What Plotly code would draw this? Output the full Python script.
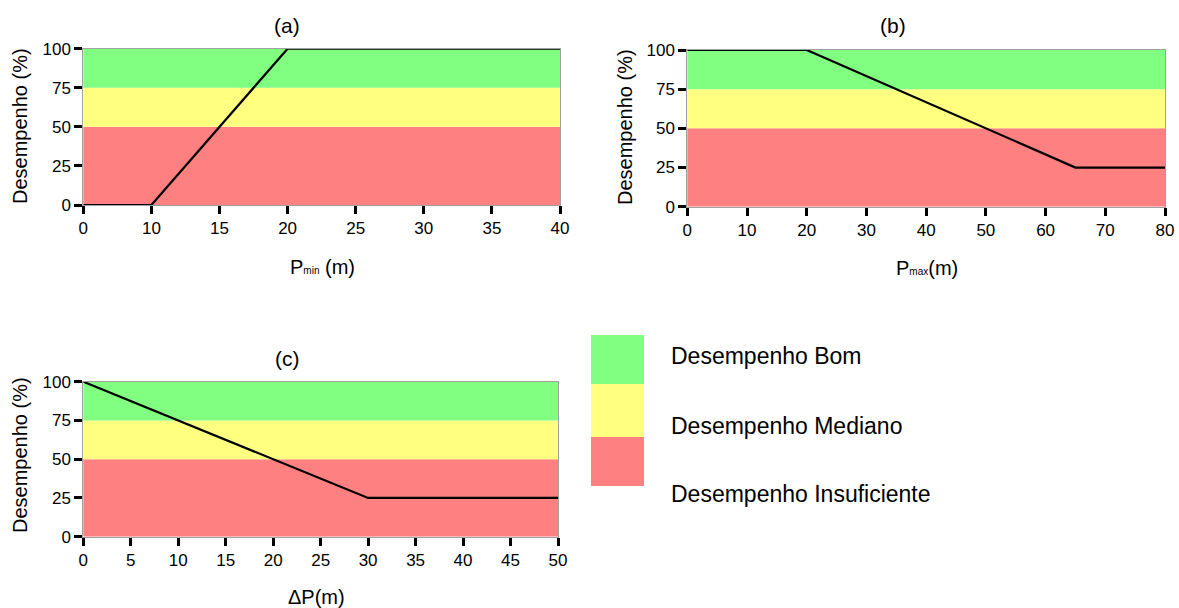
import plotly.graph_objects as go

W, H = 1179, 608

# ---- data ----
band_low = [0, 50, 75]
band_high = [50, 75, 100]
band_colors = ["#ff8080", "#ffff80", "#80ff80"]
band_names = ["Desempenho Insuficiente", "Desempenho Mediano", "Desempenho Bom"]

a_ticks = ["0", "10", "15", "20", "25", "30", "35", "40"]
a_x = ["0", "10", "20", "40"]
a_y = [0, 0, 100, 100]

b_ticks = [0, 10, 20, 30, 40, 50, 60, 70, 80]
b_x = [0, 20, 65, 80]
b_y = [100, 100, 25, 25]

c_ticks = [0, 5, 10, 15, 20, 25, 30, 35, 40, 45, 50]
c_x = [0, 30, 50]
c_y = [100, 25, 25]

y_ticks = [0, 25, 50, 75, 100]

FONT = "Liberation Sans, Arial, sans-serif"

def px(x):
    return x / W

def py(y):
    return 1 - y / H

fig = go.Figure()

line_style = dict(color="black", width=2.2)
fig.add_trace(go.Scatter(x=a_x, y=a_y, mode="lines", line=line_style, xaxis="x", yaxis="y",
                         cliponaxis=False, showlegend=False, hoverinfo="skip"))
fig.add_trace(go.Scatter(x=b_x, y=b_y, mode="lines", line=line_style, xaxis="x2", yaxis="y2",
                         cliponaxis=False, showlegend=False, hoverinfo="skip"))
fig.add_trace(go.Scatter(x=c_x, y=c_y, mode="lines", line=line_style, xaxis="x3", yaxis="y3",
                         cliponaxis=False, showlegend=False, hoverinfo="skip"))

shapes = []
for xr, yr in [("x", "y"), ("x2", "y2"), ("x3", "y3")]:
    for lo, hi, col in zip(band_low, band_high, band_colors):
        shapes.append(dict(type="rect", xref=xr + " domain", yref=yr, x0=0, x1=1, y0=lo, y1=hi,
                           fillcolor=col, line=dict(width=0), layer="below"))

# legend swatch
sw_edges = [335, 384, 437, 486]
for i, col in enumerate(reversed(band_colors)):
    shapes.append(dict(type="rect", xref="paper", yref="paper", x0=px(591), x1=px(644),
                       y0=py(sw_edges[i + 1]), y1=py(sw_edges[i]), fillcolor=col,
                       line=dict(width=0), layer="below"))

tickfont = dict(family=FONT, size=17, color="black")
common_x = dict(showline=True, linecolor="#a0a0a0", linewidth=1, mirror=True, ticks="outside",
                ticklen=8, tickwidth=2.5, tickcolor="black", showgrid=False, zeroline=False,
                tickfont=tickfont, fixedrange=True, automargin=False)
common_y = dict(showline=True, linecolor="#a0a0a0", linewidth=1, mirror=True, ticks="outside",
                ticklen=8, tickwidth=2.5, tickcolor="black", showgrid=False, zeroline=False,
                tickfont=tickfont, range=[0, 100], tickvals=y_ticks, fixedrange=True,
                automargin=False)

layout = dict(
    width=W, height=H, margin=dict(l=0, r=0, t=0, b=0, pad=0),
    paper_bgcolor="white", plot_bgcolor="white", showlegend=False,
    font=dict(family=FONT, color="black"),
    xaxis=dict(common_x, type="category", categoryorder="array", categoryarray=a_ticks,
               range=[0, len(a_ticks) - 1], domain=[px(83.3), px(560)], anchor="y"),
    yaxis=dict(common_y, domain=[py(205), py(48.7)], anchor="x"),
    xaxis2=dict(common_x, range=[0, 80], tickvals=b_ticks, domain=[px(687.3), px(1165)], anchor="y2"),
    yaxis2=dict(common_y, domain=[py(206.7), py(50)], anchor="x2"),
    xaxis3=dict(common_x, range=[0, 50], tickvals=c_ticks, domain=[px(83.3), px(558)], anchor="y3"),
    yaxis3=dict(common_y, domain=[py(536.7), py(381.7)], anchor="x3"),
    shapes=shapes,
)
fig.update_layout(**layout)

ann = []
def text(t, x, y, size, angle=0, xanchor="center"):
    ann.append(dict(text=t, x=px(x), y=py(y), xref="paper", yref="paper", showarrow=False,
                    font=dict(family=FONT, size=size, color="black"), textangle=angle,
                    xanchor=xanchor, yanchor="middle"))

text("(a)", 287, 25, 21)
text("(b)", 893, 26, 21)
text("(c)", 287, 358, 21)
text("Desempenho (%)", 20, 126, 20, angle=-90)
text("Desempenho (%)", 625, 127, 20, angle=-90)
text("Desempenho (%)", 20, 455, 20, angle=-90)
text("P<span style='font-size:10px'>min</span> (m)", 322, 267, 20)
text("P<span style='font-size:10px'>max</span>(m)", 927, 268, 20)
text("ΔP(m)", 316, 597, 20)
text(band_names[2], 669, 356, 23, xanchor="left")
text(band_names[1], 669, 426, 23, xanchor="left")
text(band_names[0], 669, 494, 23, xanchor="left")
fig.update_layout(annotations=ann)

fig.write_html("out.html")
